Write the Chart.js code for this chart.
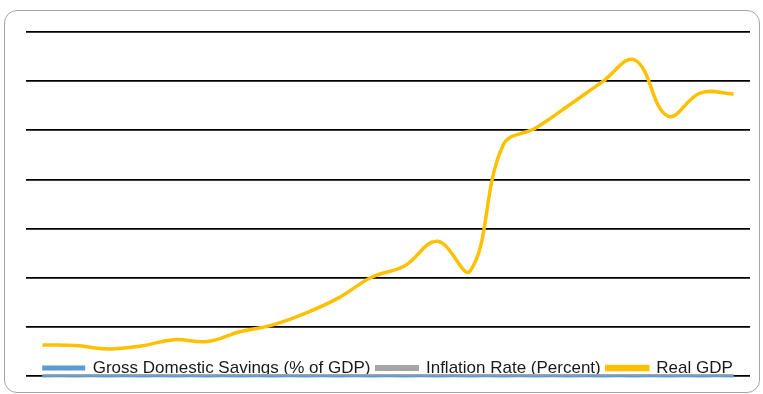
<!DOCTYPE html>
<html>
<head>
<meta charset="utf-8">
<script src="https://cdn.jsdelivr.net/npm/chart.js@4"></script>
<style>
  body { margin: 0; background: #fff; }
  #wrap { position: relative; width: 763px; height: 394px; overflow: hidden; }
  #frame {
    position: absolute; left: 4px; top: 10px; width: 754px; height: 381px;
    border: 1.5px solid #a6a6a6; border-radius: 13px;
  }
  #c { position: absolute; left: 0; top: 0; }
</style>
</head>
<body>
<div id="wrap">
  <div id="frame"></div>
  <canvas id="c" width="763" height="394"></canvas>
</div>
<script>
// years on the x axis (labels are hidden in the original)
var years = ["1998", "1999", "2000", "2001", "2002", "2003", "2004", "2005", "2006", "2007", "2008",
  "2009", "2010", "2011", "2012", "2013", "2014", "2015", "2016", "2017", "2018", "2019"];

// series (one gridline = 100)
var savings = [-0.8, -0.8, -0.8, -0.8, -0.8, -0.8, -0.8, -0.8, -0.8, -0.8, -0.8, -0.8, -0.8, -0.8, -0.8, -0.8, -0.8, -0.8, -0.8, -0.8, -0.8, -0.8];
var inflation = [1.2, 1.2, 1.2, 1.2, 1.2, 1.2, 1.2, 1.2, 1.2, 1.2, 1.2, 1.2, 1.2, 1.2, 1.2, 1.2, 1.2, 1.2, 1.2, 1.2, 1.2, 1.2];
var realGdp = [63, 62, 55, 61, 74, 70, 90, 104, 128, 159, 201, 224, 274, 214, 470, 505, 551, 598, 643, 529, 576, 574];

var yTicks = [0, 100, 200, 300, 400, 500, 600, 700];

var seriesNames = ["Gross Domestic Savings (% of GDP)", "Inflation Rate (Percent)", "Real GDP"];
var seriesColors = ["#5b9bd5", "#a5a5a5", "#ffc000"];

// move the legend up so it sits over the bottom of the plot, like the original
var legendMid = 368;
var legendPad = 6;
var liftLegend = {
  id: "liftLegend",
  afterLayout: function (chart) {
    var lg = chart.legend;
    if (!lg) return;
    var h = lg.bottom - lg.top;
    lg.top = legendMid - legendPad - 17 / 2;
    lg.bottom = lg.top + h;
  }
};

var ctx = document.getElementById("c").getContext("2d");
var chart = new Chart(ctx, {
  type: "line",
  data: {
    labels: years,
    datasets: [
      {
        label: seriesNames[0],
        data: savings,
        borderColor: seriesColors[0],
        backgroundColor: seriesColors[0],
        borderWidth: 2,
        pointRadius: 0,
        tension: 0.4,
        clip: 4
      },
      {
        label: seriesNames[1],
        data: inflation,
        borderColor: seriesColors[1],
        backgroundColor: seriesColors[1],
        borderWidth: 3,
        pointRadius: 0,
        tension: 0.4,
        clip: 4
      },
      {
        label: seriesNames[2],
        data: realGdp,
        borderColor: seriesColors[2],
        backgroundColor: seriesColors[2],
        borderWidth: 3.5,
        pointRadius: 0,
        tension: 0.4
      }
    ]
  },
  options: {
    responsive: false,
    animation: false,
    layout: { padding: { left: 26, right: 13, top: 32, bottom: -15 } },
    plugins: {
      tooltip: { enabled: false },
      legend: {
        position: "bottom",
        labels: {
          boxWidth: 41,
          boxHeight: 3,
          padding: legendPad,
          color: "#1a1a1a",
          font: { family: "Liberation Sans", size: 17 }
        }
      }
    },
    scales: {
      x: { display: false, offset: true },
      y: {
        min: 0,
        max: 700,
        afterBuildTicks: function (axis) {
          axis.ticks = yTicks.map(function (v) { return { value: v }; });
        },
        ticks: { display: false },
        border: { display: false },
        grid: { color: "#000", lineWidth: 1.7, drawTicks: false }
      }
    }
  },
  plugins: [liftLegend]
});
</script>
</body>
</html>
